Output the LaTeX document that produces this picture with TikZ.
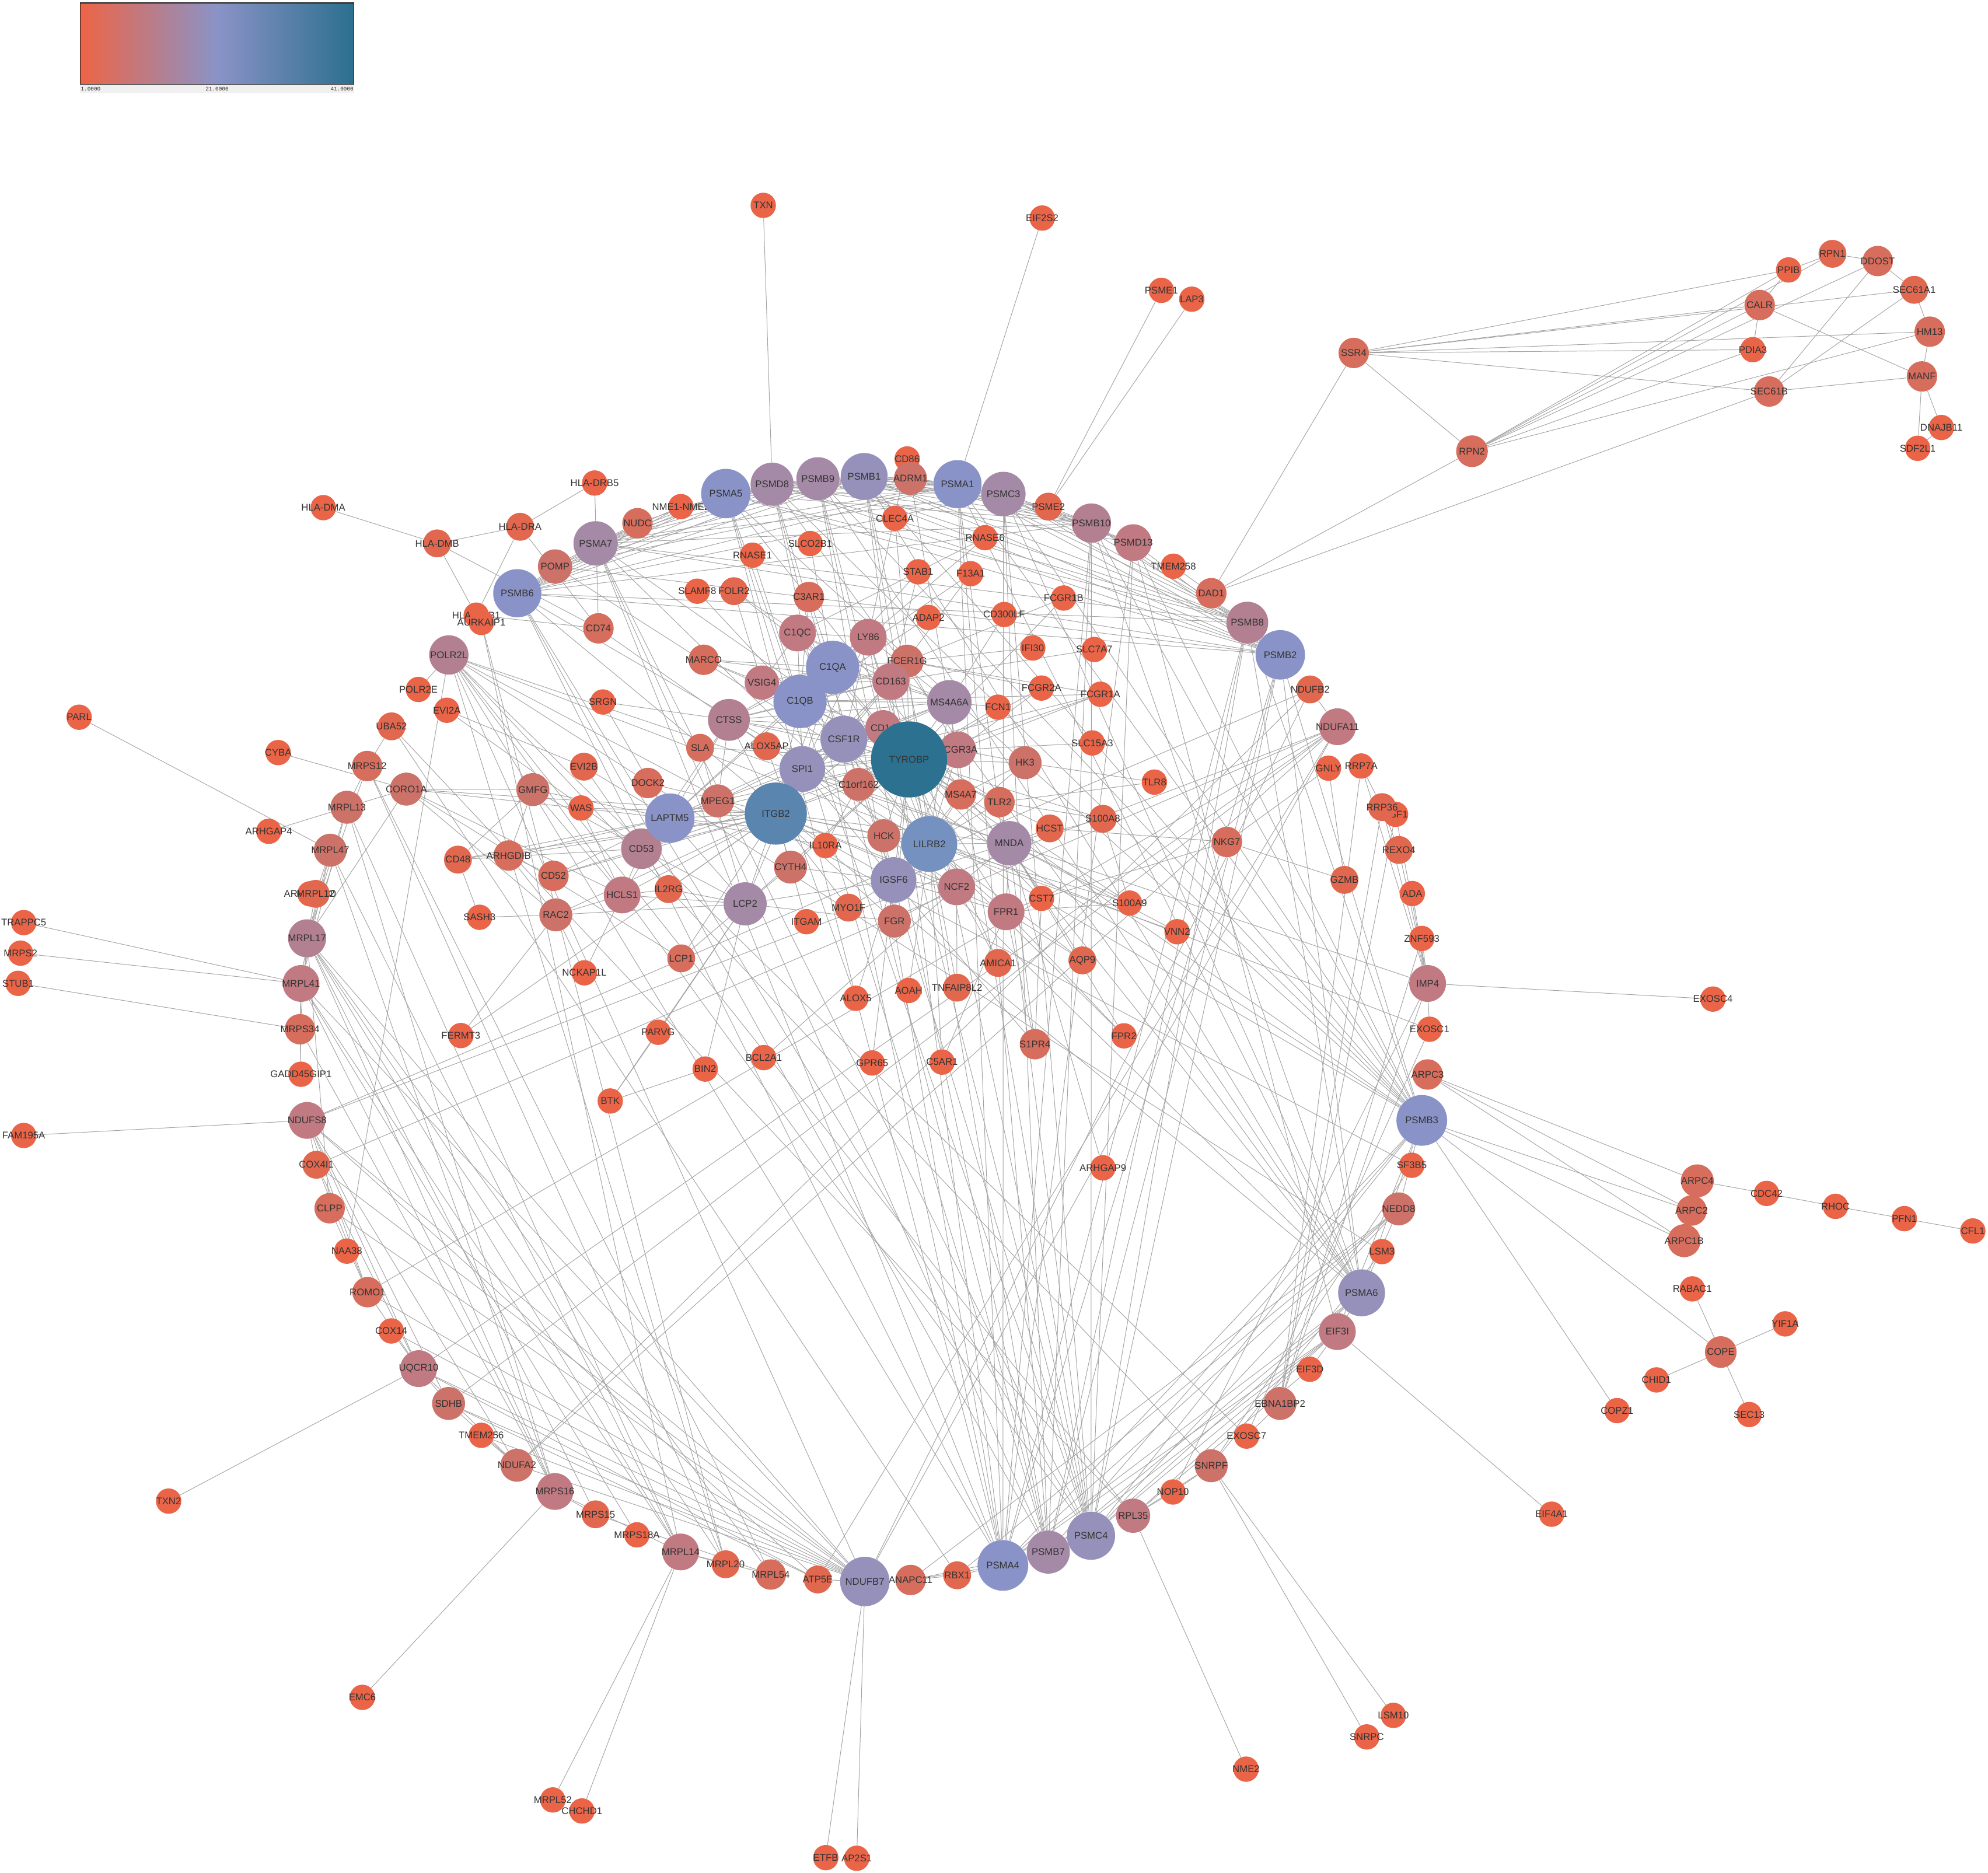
\documentclass[tikz,border=0pt]{standalone}
\usepackage{fontspec}
\newfontfamily\gfam{Liberation Sans}
\newfontfamily\lgfam{Liberation Mono}
\pgfdeclarelayer{bglayer}
\pgfdeclarelayer{edgelayer}
\pgfsetlayers{bglayer,edgelayer,main}
\definecolor{cla}{HTML}{EA6448}
\definecolor{clb}{HTML}{E1684F}
\definecolor{clc}{HTML}{D76D5C}
\definecolor{cld}{HTML}{CD7269}
\definecolor{cle}{HTML}{C17A82}
\definecolor{clf}{HTML}{B28090}
\definecolor{clg}{HTML}{A58AA7}
\definecolor{clh}{HTML}{9691BA}
\definecolor{cli}{HTML}{8A93C7}
\definecolor{clj}{HTML}{7591C0}
\definecolor{clk}{HTML}{5A85AE}
\definecolor{cll}{HTML}{2C7190}
\definecolor{edgec}{HTML}{A3A3A3}
\definecolor{lgA}{HTML}{EE6446}
\definecolor{lgM}{HTML}{8A93C7}
\definecolor{lgZ}{HTML}{2C6F8E}
\tikzset{
 gnode/.style={circle,inner sep=0pt,font=\gfam\fontsize{7.7}{8}\selectfont,text=black!80},
 lv1/.style={gnode,fill=cla,minimum size=20pt},
 lv2/.style={gnode,fill=clb,minimum size=22pt},
 lv3/.style={gnode,fill=clc,minimum size=24pt},
 lv4/.style={gnode,fill=cld,minimum size=26pt},
 lv5/.style={gnode,fill=cle,minimum size=29pt},
 lv6/.style={gnode,fill=clf,minimum size=31pt},
 lv7/.style={gnode,fill=clg,minimum size=34pt},
 lv8/.style={gnode,fill=clh,minimum size=37pt},
 lv9/.style={gnode,fill=cli,minimum size=39pt},
 lvlil/.style={gnode,fill=clj,minimum size=44pt},
 lvitg/.style={gnode,fill=clk,minimum size=49pt},
 lvtyr/.style={gnode,fill=cll,minimum size=60pt},
 gline/.style={draw=edgec,line width=0.45pt},
 lgtext/.style={inner sep=0pt,font=\lgfam\fontsize{4.3}{5}\selectfont,text=black!85}
}
\newcommand\gnd[4]{\node[#1] (#2) at (#3) {\makebox[0pt]{#4}};}
\newcommand\gnhub[2]{\foreach \hb in {#2}{\draw[gline] (#1) -- (\hb);}}
\begin{document}
\begin{tikzpicture}[x=1pt,y=-1pt]
\begin{pgfonlayer}{bglayer}
\fill[white] (0,0) rectangle (1568,1477);
\end{pgfonlayer}
\useasboundingbox (0,0) rectangle (1568,1477);
% legend
\shade[left color=lgA,right color=lgM] (63.2,2.3) rectangle (171.2,66.7);
\shade[left color=lgM,right color=lgZ] (171.2,2.3) rectangle (279.2,66.7);
\draw[black!90,line width=0.5pt] (63.2,2.3) rectangle (279.2,66.7);
\fill[black!6] (63.2,66.9) rectangle (279.2,73);
\node[lgtext,anchor=west] (lgone) at (63.6,70) {1.0000};
\node[lgtext] (lgtwo) at (171.2,70) {21.0000};
\node[lgtext,anchor=east] (lgthree) at (279,70) {41.0000};
% ---------- lv1 nodes
\gnd{lv1}{TXN}{602,162}{TXN}
\gnd{lv1}{EIF2S2}{822,172}{EIF2S2}
\gnd{lv1}{PSME1}{916,229}{PSME1}
\gnd{lv1}{LAP3}{940,236}{LAP3}
\gnd{lv1}{PPIB}{1410.7,212.9}{PPIB}
\gnd{lv1}{PDIA3}{1382.5,275.8}{PDIA3}
\gnd{lv1}{DNAJB11}{1531.2,337.2}{DNAJB11}
\gnd{lv1}{SDF2L1}{1512.5,353.6}{SDF2L1}
\gnd{lv1}{HLADRB5}{469,381}{HLA-DRB5}
\gnd{lv1}{HLADMA}{255,400.4}{HLA-DMA}
\gnd{lv1}{HLADRB1}{375.6,485.2}{HLA-DRB1}
\gnd{lv1}{AURKAIP1}{379.7,491}{AURKAIP1}
\gnd{lv1}{NMEA}{537,399.6}{NME1-NME2}
\gnd{lv1}{CD86}{715.5,362}{CD86}
\gnd{lv1}{TMEM258}{925.5,446.6}{TMEM258}
\gnd{lv1}{GNLY}{1047.8,605.9}{GNLY}
\gnd{lv1}{RRP7A}{1073.6,604.2}{RRP7A}
\gnd{lv1}{ESF1}{1100.7,642.3}{ESF1}
\gnd{lv1}{ADA}{1113.9,704.8}{ADA}
\gnd{lv1}{ZNF593}{1121.4,740.2}{ZNF593}
\gnd{lv1}{EXOSC1}{1127.5,811.8}{EXOSC1}
\gnd{lv1}{EXOSC4}{1351,788}{EXOSC4}
\gnd{lv1}{SF3B5}{1113.5,919.1}{SF3B5}
\gnd{lv1}{LSM3}{1090,987.2}{LSM3}
\gnd{lv1}{EIF3D}{1033.1,1080}{EIF3D}
\gnd{lv1}{EXOSC7}{983.2,1132.7}{EXOSC7}
\gnd{lv1}{NOP10}{925.1,1176.8}{NOP10}
\gnd{lv1}{MRPS18A}{502.3,1210.6}{MRPS18A}
\gnd{lv1}{TMEM256}{379.6,1132.1}{TMEM256}
\gnd{lv1}{COX14}{308.6,1049.8}{COX14}
\gnd{lv1}{NAA38}{273.5,986.8}{NAA38}
\gnd{lv1}{GADD45GIP1}{237.4,847.3}{GADD45GIP1}
\gnd{lv1}{ARHGAP30}{244.5,705}{ARHGAP30}
\gnd{lv1}{EVI2A}{352.4,560.2}{EVI2A}
\gnd{lv1}{POLR2E}{330,543.8}{POLR2E}
\gnd{lv1}{PARL}{62.4,565.7}{PARL}
\gnd{lv1}{CYBA}{219.4,593.6}{CYBA}
\gnd{lv1}{ARHGAP4}{212,655.7}{ARHGAP4}
\gnd{lv1}{TRAPPC5}{18.7,727.7}{TRAPPC5}
\gnd{lv1}{MRPS2}{16.2,751.8}{MRPS2}
\gnd{lv1}{STUB1}{14.3,775.6}{STUB1}
\gnd{lv1}{FAM195A}{18.7,895.6}{FAM195A}
\gnd{lv1}{TXN2}{133,1184}{TXN2}
\gnd{lv1}{EMC6}{285.8,1338.8}{EMC6}
\gnd{lv1}{MRPL52}{436,1419.7}{MRPL52}
\gnd{lv1}{CHCHD1}{459,1428.4}{CHCHD1}
\gnd{lv1}{ETFB}{651.3,1465.2}{ETFB}
\gnd{lv1}{AP2S1}{675.7,1465.7}{AP2S1}
\gnd{lv1}{NME2}{982.8,1395.4}{NME2}
\gnd{lv1}{SNRPC}{1078,1370}{SNRPC}
\gnd{lv1}{LSM10}{1099,1353}{LSM10}
\gnd{lv1}{EIF4A1}{1223.8,1194.3}{EIF4A1}
\gnd{lv1}{COPZ1}{1275.4,1112.6}{COPZ1}
\gnd{lv1}{SEC13}{1379.6,1115.7}{SEC13}
\gnd{lv1}{CHID1}{1306.5,1088.4}{CHID1}
\gnd{lv1}{YIF1A}{1408,1044.2}{YIF1A}
\gnd{lv1}{RABAC1}{1334.8,1016.6}{RABAC1}
\gnd{lv1}{CDC42}{1393.3,941.3}{CDC42}
\gnd{lv1}{RHOC}{1447.7,951.5}{RHOC}
\gnd{lv1}{PFN1}{1502,961.2}{PFN1}
\gnd{lv1}{CFL1}{1556,970.9}{CFL1}
\gnd{lv1}{SRGN}{475.5,553.7}{SRGN}
\gnd{lv1}{SLAMF8}{549.9,466.3}{SLAMF8}
\gnd{lv1}{RNASE1}{593.5,437.9}{RNASE1}
\gnd{lv1}{SLCO2B1}{639,428.7}{SLCO2B1}
\gnd{lv1}{CLEC4A}{705.8,408.8}{CLEC4A}
\gnd{lv1}{RNASE6}{776.9,424.1}{RNASE6}
\gnd{lv1}{STAB1}{724.2,451}{STAB1}
\gnd{lv1}{F13A1}{765.6,452.5}{F13A1}
\gnd{lv1}{ADAP2}{732.3,487}{ADAP2}
\gnd{lv1}{CD300LF}{792,484.7}{CD300LF}
\gnd{lv1}{FCGR1B}{838.9,471.7}{FCGR1B}
\gnd{lv1}{IFI30}{814.6,511.1}{IFI30}
\gnd{lv1}{SLC7A7}{863.1,512.3}{SLC7A7}
\gnd{lv1}{FCGR2A}{821.4,542.7}{FCGR2A}
\gnd{lv1}{FCGR1A}{867.9,547.6}{FCGR1A}
\gnd{lv1}{FCN1}{787.1,557.8}{FCN1}
\gnd{lv1}{SLC15A3}{861.5,586}{SLC15A3}
\gnd{lv1}{TLR8}{910.5,616.9}{TLR8}
\gnd{lv1}{WAS}{458.3,637.3}{WAS}
\gnd{lv1}{IL10RA}{651,666.9}{IL10RA}
\gnd{lv1}{CST7}{821.5,708.6}{CST7}
\gnd{lv1}{S100A9}{890.9,712.3}{S100A9}
\gnd{lv1}{SASH3}{378.2,723.5}{SASH3}
\gnd{lv1}{ITGAM}{636.1,727}{ITGAM}
\gnd{lv1}{VNN2}{928.4,734.9}{VNN2}
\gnd{lv1}{NCKAP1L}{460.9,767.3}{NCKAP1L}
\gnd{lv1}{AOAH}{716.7,781.2}{AOAH}
\gnd{lv1}{ALOX5}{675,787.4}{ALOX5}
\gnd{lv1}{FERMT3}{363.5,816.8}{FERMT3}
\gnd{lv1}{PARVG}{519.1,814.2}{PARVG}
\gnd{lv1}{FPR2}{886.5,817}{FPR2}
\gnd{lv1}{BCL2A1}{602.4,834.2}{BCL2A1}
\gnd{lv1}{BIN2}{556.2,843.2}{BIN2}
\gnd{lv1}{GPR65}{687.9,838.4}{GPR65}
\gnd{lv1}{C5AR1}{743,837.7}{C5AR1}
\gnd{lv1}{BTK}{481.3,868.4}{BTK}
\gnd{lv1}{ARHGAP9}{869.9,921.1}{ARHGAP9}
% ---------- lv2 nodes
\gnd{lv2}{RPN1}{1445.3,200.2}{RPN1}
\gnd{lv2}{SEC61A1}{1509.8,228.6}{SEC61A1}
\gnd{lv2}{HLADRA}{410.2,415.5}{HLA-DRA}
\gnd{lv2}{HLADMB}{344.8,428.6}{HLA-DMB}
\gnd{lv2}{PSME2}{826.9,399.6}{PSME2}
\gnd{lv2}{NDUFB2}{1033.3,543.8}{NDUFB2}
\gnd{lv2}{RRP36}{1090.1,636.6}{RRP36}
\gnd{lv2}{REXO4}{1103.3,670.4}{REXO4}
\gnd{lv2}{GZMB}{1060.4,694}{GZMB}
\gnd{lv2}{RBX1}{754.9,1242.5}{RBX1}
\gnd{lv2}{ATP5E}{645,1245.8}{ATP5E}
\gnd{lv2}{MRPL20}{572.3,1233.8}{MRPL20}
\gnd{lv2}{MRPS15}{469.7,1194.4}{MRPS15}
\gnd{lv2}{COX4I1}{249.5,918.7}{COX4I1}
\gnd{lv2}{MRPL12}{249,705}{MRPL12}
\gnd{lv2}{UBA52}{308.8,572.9}{UBA52}
\gnd{lv2}{FOLR2}{578.9,466.3}{FOLR2}
\gnd{lv2}{ALOX5AP}{604.6,588.6}{ALOX5AP}
\gnd{lv2}{EVI2B}{460.5,604.7}{EVI2B}
\gnd{lv2}{S100A8}{869.8,645.8}{S100A8}
\gnd{lv2}{HCST}{827.9,653.4}{HCST}
\gnd{lv2}{CD48}{361.2,678}{CD48}
\gnd{lv2}{IL2RG}{527.3,701.3}{IL2RG}
\gnd{lv2}{MYO1F}{669.3,715.9}{MYO1F}
\gnd{lv2}{AMICA1}{787.2,759.5}{AMICA1}
\gnd{lv2}{AQP9}{853.7,757.5}{AQP9}
\gnd{lv2}{TNFAIP8L2}{754.8,779}{TNFAIP8L2}
% ---------- lv3 nodes
\gnd{lv3}{DDOST}{1481,205.9}{DDOST}
\gnd{lv3}{CALR}{1387.9,240.6}{CALR}
\gnd{lv3}{HM13}{1522,261.6}{HM13}
\gnd{lv3}{SSR4}{1067.7,278.4}{SSR4}
\gnd{lv3}{MANF}{1515.9,296.9}{MANF}
\gnd{lv3}{SEC61B}{1395.4,308.8}{SEC61B}
\gnd{lv3,minimum size=25pt}{RPN2}{1161,355.9}{RPN2}
\gnd{lv3}{NUDC}{502.8,412.7}{NUDC}
\gnd{lv3}{DAD1}{955.4,467.9}{DAD1}
\gnd{lv3}{ARPC3}{1126,847.5}{ARPC3}
\gnd{lv3}{ANAPC11}{718.2,1246.2}{ANAPC11}
\gnd{lv3}{MRPL54}{607.9,1241.9}{MRPL54}
\gnd{lv3}{ROMO1}{289.9,1019.2}{ROMO1}
\gnd{lv3}{CLPP}{260,953}{CLPP}
\gnd{lv3}{MRPS34}{236.6,811.8}{MRPS34}
\gnd{lv3}{MRPS12}{289.6,604.2}{MRPS12}
\gnd{lv3}{CD74}{472,495.6}{CD74}
\gnd{lv3}{C3AR1}{638,470.9}{C3AR1}
\gnd{lv3}{MARCO}{555,520.4}{MARCO}
\gnd{lv3,minimum size=22pt}{SLA}{552.2,589.8}{SLA}
\gnd{lv3}{MS4A7}{757.8,626.6}{MS4A7}
\gnd{lv3}{TLR2}{788.3,632.7}{TLR2}
\gnd{lv3}{DOCK2}{511,617.6}{DOCK2}
\gnd{lv3}{ARHGDIB}{401.2,674.8}{ARHGDIB}
\gnd{lv3}{CD52}{436.5,690.8}{CD52}
\gnd{lv3,minimum size=22pt}{LCP1}{537.3,755.9}{LCP1}
\gnd{lv3}{S1PR4}{816.3,823.6}{S1PR4}
\gnd{lv3}{NKG7}{967.7,664.1}{NKG7}
\gnd{lv3,minimum size=25pt}{COPE}{1357.2,1066.4}{COPE}
\gnd{lv3,minimum size=26pt}{ARPC4}{1338.7,931.4}{ARPC4}
\gnd{lv3}{ARPC2}{1334.2,954.8}{ARPC2}
\gnd{lv3,minimum size=26pt}{ARPC1B}{1328.3,978.6}{ARPC1B}
% ---------- lv4 nodes
\gnd{lv4}{ADRM1}{718.1,377.3}{ADRM1}
\gnd{lv4}{NEDD8}{1103.2,953.5}{NEDD8}
\gnd{lv4}{EBNA1BP2}{1009.6,1107}{EBNA1BP2}
\gnd{lv4}{SNRPF}{955.3,1156.1}{SNRPF}
\gnd{lv4}{SDHB}{353.8,1107}{SDHB}
\gnd{lv4}{NDUFA2}{407.7,1155.7}{NDUFA2}
\gnd{lv4}{MRPL47}{260.5,670.6}{MRPL47}
\gnd{lv4}{MRPL13}{273.6,636.7}{MRPL13}
\gnd{lv4,minimum size=27pt}{POMP}{437.8,446.8}{POMP}
\gnd{lv4}{FCER1G}{715.5,521.5}{FCER1G}
\gnd{lv4}{HK3}{808.5,601.6}{HK3}
\gnd{lv4}{C1orf162}{677.2,618.7}{C1orf162}
\gnd{lv4}{GMFG}{420.3,622.8}{GMFG}
\gnd{lv4}{MPEG1}{566.1,631.7}{MPEG1}
\gnd{lv4}{HCK}{697.1,659.2}{HCK}
\gnd{lv4}{CYTH4}{623.5,683.9}{CYTH4}
\gnd{lv4}{FGR}{705.4,726.5}{FGR}
\gnd{lv4}{RAC2}{438.4,721.6}{RAC2}
\gnd{lv4}{CORO1A}{320.5,622.4}{CORO1A}
% ---------- lv5 nodes
\gnd{lv5}{PSMD13}{893.8,428}{PSMD13}
\gnd{lv5}{NDUFA11}{1054.9,573.2}{NDUFA11}
\gnd{lv5}{IMP4}{1126,775.7}{IMP4}
\gnd{lv5}{EIF3I}{1054.8,1050.3}{EIF3I}
\gnd{lv5,minimum size=27pt}{RPL35}{893.7,1195.5}{RPL35}
\gnd{lv5}{MRPL14}{536.8,1224.1}{MRPL14}
\gnd{lv5}{MRPS16}{437.7,1176.4}{MRPS16}
\gnd{lv5}{UQCR10}{330.2,1079.5}{UQCR10}
\gnd{lv5}{NDUFS8}{242.2,883.7}{NDUFS8}
\gnd{lv5}{MRPL41}{237.4,775.7}{MRPL41}
\gnd{lv5}{C1QC}{629,499.3}{C1QC}
\gnd{lv5}{LY86}{684.8,502.6}{LY86}
\gnd{lv5,minimum size=27pt}{VSIG4}{600.9,538.4}{VSIG4}
\gnd{lv5}{CD163}{702.6,537.6}{CD163}
\gnd{lv5,minimum size=28pt}{CD14}{696.5,574.1}{CD14}
\gnd{lv5}{FCGR3A}{755.4,591.4}{FCGR3A}
\gnd{lv5}{NCF2}{754.5,699.5}{NCF2}
\gnd{lv5}{HCLS1}{490.7,705.9}{HCLS1}
\gnd{lv5}{FPR1}{793.5,719.2}{FPR1}
% ---------- lv6 nodes
\gnd{lv6}{PSMB10}{860.8,412.6}{PSMB10}
\gnd{lv6,minimum size=33pt}{PSMB8}{983.8,491.1}{PSMB8}
\gnd{lv6,minimum size=30pt}{MRPL17}{242.2,740.1}{MRPL17}
\gnd{lv6}{POLR2L}{354,516.6}{POLR2L}
\gnd{lv6,minimum size=33pt}{CTSS}{574.9,567.8}{CTSS}
\gnd{lv6,minimum size=32pt}{CD53}{505.9,669.4}{CD53}
% ---------- lv7 nodes
\gnd{lv7}{PSMD8}{609,381.9}{PSMD8}
\gnd{lv7}{PSMB9}{645.1,377.6}{PSMB9}
\gnd{lv7,minimum size=35pt}{PSMC3}{791.4,389.6}{PSMC3}
\gnd{lv7}{PSMB7}{826.8,1224.2}{PSMB7}
\gnd{lv7,minimum size=35pt}{PSMA7}{469.8,428.6}{PSMA7}
\gnd{lv7,minimum size=35pt}{MS4A6A}{748.8,553.9}{MS4A6A}
\gnd{lv7,minimum size=35pt}{MNDA}{796,665.1}{MNDA}
\gnd{lv7}{LCP2}{587.7,712.9}{LCP2}
% ---------- lv8 nodes
\gnd{lv8}{PSMB1}{681.6,375.8}{PSMB1}
\gnd{lv8}{PSMA6}{1073.9,1019.7}{PSMA6}
\gnd{lv8,minimum size=38pt}{PSMC4}{860.5,1211.3}{PSMC4}
\gnd{lv8,minimum size=39pt}{NDUFB7}{682.1,1247.4}{NDUFB7}
\gnd{lv8}{CSF1R}{665.6,583}{CSF1R}
\gnd{lv8,minimum size=36pt}{SPI1}{632.8,606.5}{SPI1}
\gnd{lv8,minimum size=36pt}{IGSF6}{704.8,694.1}{IGSF6}
% ---------- lv9 nodes
\gnd{lv9}{PSMA5}{572.5,389.3}{PSMA5}
\gnd{lv9,minimum size=38pt}{PSMA1}{755.2,381.9}{PSMA1}
\gnd{lv9}{PSMB2}{1009.8,516.5}{PSMB2}
\gnd{lv9,minimum size=40pt}{PSMB3}{1121.4,883.7}{PSMB3}
\gnd{lv9,minimum size=40pt}{PSMA4}{791,1234.7}{PSMA4}
\gnd{lv9,minimum size=38pt}{PSMB6}{408,467.9}{PSMB6}
\gnd{lv9}{LAPTM5}{528.3,645.3}{LAPTM5}
\gnd{lv9,minimum size=42pt}{C1QA}{656.7,526.4}{C1QA}
\gnd{lv9,minimum size=42pt}{C1QB}{631,553.3}{C1QB}
% ---------- hubs
\gnd{lvlil}{LILRB2}{733,665.7}{LILRB2}
\gnd{lvitg}{ITGB2}{611.9,641.7}{ITGB2}
\gnd{lvtyr}{TYROBP}{717,599}{TYROBP}
% ================= edges
\begin{pgfonlayer}{edgelayer}
\def\plist{PSMA1,PSMA4,PSMA5,PSMA6,PSMA7,PSMB1,PSMB2,PSMB3,PSMB6,PSMB7,PSMC3,PSMC4,PSMD8,PSMB9,PSMB8,PSMB10}
\foreach \pa [count=\i] in \plist {\foreach \pb [count=\j] in \plist {\ifnum\j>\i \draw[gline] (\pa) -- (\pb);\fi}}
\foreach \pa/\pb in {SSR4/PPIB,SSR4/CALR,SSR4/SEC61A1,SSR4/HM13,SSR4/PDIA3,SSR4/SEC61B,SSR4/RPN2,SSR4/DAD1,
 RPN2/PPIB,RPN2/CALR,RPN2/DDOST,RPN2/PDIA3,RPN2/HM13,RPN2/DAD1,RPN2/RPN1,
 SEC61B/DAD1,SEC61B/MANF,SEC61B/DDOST,SEC61B/SEC61A1,CALR/MANF,CALR/PDIA3,CALR/PPIB,
 DDOST/RPN1,DDOST/SEC61A1,SEC61A1/HM13,HM13/MANF,MANF/DNAJB11,MANF/SDF2L1,DNAJB11/SDF2L1,RPN1/PPIB,DAD1/TMEM258,
 TXN/PSMD8,EIF2S2/PSMA1,PSME1/PSME2,LAP3/PSME2,
 HLADMA/HLADMB,HLADMB/HLADRA,HLADMB/HLADRB1,HLADMB/CD74,HLADRA/HLADRB5,HLADRA/HLADRB1,HLADRA/CD74,HLADRB5/CD74,HLADRB1/CD74,CD74/CTSS,
 POMP/PSMB6,POMP/PSMA7,POMP/PSMA5,POMP/PSMB2,POMP/PSMB1,POMP/PSMA1,POMP/PSMB3,
 PSMD13/PSMC3,PSMD13/PSMC4,PSMD13/PSMD8,PSMD13/ADRM1,PSMD13/PSMA1,PSMD13/PSMB2,PSMD13/PSMA4,PSMD13/PSMB3,
 ADRM1/PSMD8,ADRM1/PSMC3,ADRM1/PSMA1,ADRM1/PSMB1,ADRM1/PSMC4,ADRM1/PSMA5,
 PSME2/PSMB8,PSME2/PSMB9,PSME2/PSMB10,NUDC/PSMA7,NUDC/PSMB6,NUDC/PSMA5,NMEA/PSMA7,NMEA/PSMB6,
 RBX1/NEDD8,RBX1/ANAPC11,RBX1/PSMA4,RBX1/UBA52,NEDD8/PSMB3,NEDD8/PSMA6,NEDD8/ANAPC11,NEDD8/PSMC4,NEDD8/PSMA4,
 ANAPC11/PSMA4,ANAPC11/PSMB7,UBA52/MRPS12,UBA52/RPL35,CD86/LY86}
 {\draw[gline] (\pa) -- (\pb);}
\foreach \pa/\pb in {MRPL17/MRPL13,MRPL17/MRPL47,MRPL17/MRPL12,MRPL17/MRPL41,MRPL17/MRPS34,MRPL17/MRPS16,MRPL17/MRPL14,MRPL17/MRPL20,MRPL17/MRPL54,MRPL17/MRPS15,MRPL17/MRPS12,MRPL17/CORO1A,
 MRPL41/MRPL13,MRPL41/MRPL47,MRPL41/MRPS34,MRPL41/MRPS16,MRPL41/MRPL14,MRPL41/TRAPPC5,MRPL41/MRPS2,MRPL41/MRPS18A,MRPL41/GADD45GIP1,
 MRPS16/MRPL13,MRPS16/MRPL47,MRPS16/MRPS34,MRPS16/MRPL14,MRPS16/MRPS15,MRPS16/EMC6,
 MRPL14/MRPL13,MRPL14/MRPL47,MRPL14/MRPL52,MRPL14/CHCHD1,MRPL14/MRPL20,MRPL14/MRPL54,
 MRPL13/ARHGAP4,MRPL13/MRPS12,MRPL13/CORO1A,MRPL47/PARL,MRPL47/MRPL12,MRPS34/STUB1,MRPS34/GADD45GIP1,
 MRPL54/MRPS15,MRPL54/MRPS12,AURKAIP1/MRPL20,AURKAIP1/MRPL14,MRPS12/MRPL20,
 NDUFB7/NDUFS8,NDUFB7/NDUFA11,NDUFB7/NDUFA2,NDUFB7/NDUFB2,NDUFB7/UQCR10,NDUFB7/SDHB,NDUFB7/ATP5E,NDUFB7/COX4I1,NDUFB7/COX14,NDUFB7/ROMO1,NDUFB7/ETFB,NDUFB7/AP2S1,NDUFB7/CLPP,NDUFB7/TMEM256,NDUFB7/MRPL17,NDUFB7/MRPL41,NDUFB7/POLR2L,
 NDUFS8/NDUFA11,NDUFS8/NDUFA2,NDUFS8/NDUFB2,NDUFS8/UQCR10,NDUFS8/SDHB,NDUFS8/ATP5E,NDUFS8/COX4I1,NDUFS8/FAM195A,NDUFS8/ROMO1,
 NDUFA11/NDUFA2,NDUFA11/NDUFB2,NDUFA11/UQCR10,NDUFA11/SDHB,NDUFA11/ATP5E,NDUFA11/COX4I1,NDUFA11/ROMO1,
 UQCR10/SDHB,UQCR10/ATP5E,UQCR10/COX4I1,UQCR10/COX14,UQCR10/TXN2,UQCR10/NDUFA2,UQCR10/ROMO1,
 SDHB/ATP5E,SDHB/NDUFA2,ROMO1/COX4I1,NDUFB2/NDUFA2,CLPP/ROMO1,CLPP/MRPL17,NAA38/POLR2L,TMEM256/NDUFA2}
 {\draw[gline] (\pa) -- (\pb);}
\foreach \pa/\pb in {IMP4/EXOSC4,IMP4/EXOSC1,IMP4/ZNF593,IMP4/REXO4,IMP4/RRP36,IMP4/RRP7A,IMP4/ESF1,IMP4/EBNA1BP2,IMP4/NOP10,IMP4/ADA,
 EBNA1BP2/RRP36,EBNA1BP2/RRP7A,EBNA1BP2/ZNF593,EBNA1BP2/EXOSC7,EBNA1BP2/ESF1,EXOSC7/EXOSC1,REXO4/RRP36,RRP7A/RRP36,
 SNRPF/LSM3,SNRPF/LSM10,SNRPF/SNRPC,SNRPF/SF3B5,SNRPF/NOP10,SNRPF/POLR2L,SNRPF/RPL35,SF3B5/POLR2L,LSM3/POLR2L,
 EIF3I/EIF3D,EIF3I/EIF4A1,EIF3I/RPL35,EIF3I/PSMA6,EIF3I/PSMB3,EIF3I/PSMA4,EIF3I/PSMC4,EIF3I/PSMB7,EIF3I/PSMD13,
 EIF3D/RPL35,RPL35/NME2,RPL35/NOP10,
 POLR2L/POLR2E,POLR2L/EXOSC7,POLR2L/EXOSC1,POLR2L/IMP4,POLR2L/RPL35,POLR2L/PSMA4,POLR2L/PSMC4,POLR2L/MRPL20,
 ARPC3/ARPC4,ARPC3/ARPC2,ARPC3/ARPC1B,PSMB3/ARPC1B,PSMB3/ARPC2,ARPC4/ARPC2,ARPC2/ARPC1B,ARPC4/CDC42,CDC42/RHOC,RHOC/PFN1,PFN1/CFL1,
 PSMB3/COPE,PSMB3/COPZ1,COPE/RABAC1,COPE/YIF1A,COPE/CHID1,COPE/SEC13,
 NKG7/GZMB,NKG7/GNLY,NKG7/HCST,NKG7/CST7,GNLY/GZMB}
 {\draw[gline] (\pa) -- (\pb);}
\gnhub{TYROBP}{ITGB2,LILRB2,C1QA,C1QB,C1QC,LAPTM5,SPI1,CSF1R,IGSF6,CTSS,MS4A6A,MNDA,LCP2,CD53,LY86,CD163,VSIG4,FCGR3A,CD14,FPR1,NCF2,FCER1G,HCK,C1orf162,MS4A7,TLR2,HK3,FCGR1A,FCGR2A,FCGR1B,FCN1,MPEG1,CYTH4,FGR,SLA,ALOX5AP,HCST,S100A8,S100A9,CST7,AMICA1}
\gnhub{ITGB2}{LILRB2,C1QA,C1QB,LAPTM5,SPI1,CSF1R,IGSF6,CTSS,MNDA,LCP2,CD53,FCGR3A,CD14,FPR1,NCF2,FCER1G,HCK,ITGAM,HCLS1,CORO1A,RAC2,CD52,IL2RG,LCP1,CYTH4,MYO1F,FGR,DOCK2,CD48,ARHGDIB,WAS,FERMT3}
\gnhub{LILRB2}{C1QA,C1QB,LAPTM5,SPI1,CSF1R,IGSF6,MNDA,MS4A6A,FCGR3A,CD14,FPR1,NCF2,HCK,FCER1G,LY86,MS4A7,TLR2,HK3,FPR2,AQP9,S100A9,VNN2,AOAH,C5AR1,TNFAIP8L2}
\gnhub{C1QA}{C1QB,C1QC,CSF1R,CD163,VSIG4,MS4A6A,LY86,MARCO,FCER1G,CTSS,SPI1,STAB1,F13A1,FOLR2,SLCO2B1,C3AR1,LAPTM5}
\gnhub{C1QB}{C1QC,CSF1R,CD163,VSIG4,MS4A6A,LY86,FCER1G,CTSS,SPI1,LAPTM5,MARCO,ADAP2,CD14,FCGR1A,C3AR1,SLAMF8,RNASE1}
\gnhub{C1QC}{CD163,VSIG4,MS4A6A,CSF1R,FOLR2,LY86,RNASE6}
\gnhub{LAPTM5}{CD53,CSF1R,SPI1,CTSS,LCP2,HCLS1,CD52,EVI2B,DOCK2,IL10RA,MPEG1,GMFG,CORO1A,SRGN,CD48,ARHGDIB}
\gnhub{SPI1}{CSF1R,IGSF6,MNDA,LCP2,CD14,CTSS,MS4A6A,LY86,FCGR1A,CD163,HCK,FCGR3A}
\gnhub{CSF1R}{CTSS,CD163,MS4A6A,CD14,IGSF6,MPEG1,LY86,FCGR3A,C1orf162,MS4A7}
\gnhub{IGSF6}{MNDA,FPR1,NCF2,FGR,HCK,MS4A7,LCP2,CYTH4,MYO1F,FCGR3A,ALOX5,GPR65,S1PR4}
\gnhub{CTSS}{MS4A6A,CD14,CD163,LY86,MPEG1,ALOX5AP,CD53,SRGN}
\gnhub{MS4A6A}{CD163,MS4A7,CD14,LY86,FCN1,CD300LF}
\gnhub{MNDA}{FPR1,NCF2,CST7,HCST,S100A8,S100A9,TLR2,AQP9,FPR2,VNN2,ARHGAP9,S1PR4}
\gnhub{LCP2}{HCLS1,CD53,IL2RG,LCP1,RAC2,BTK,PARVG,CYTH4,FGR,BIN2,SLA}
\gnhub{CD53}{HCLS1,CD52,CD48,IL2RG,EVI2B,EVI2A,GMFG}
\gnhub{HCLS1}{RAC2,CORO1A,IL2RG,WAS,NCKAP1L,GMFG}
\gnhub{CD163}{VSIG4,MARCO,STAB1,F13A1,SLC7A7}
\gnhub{FCGR3A}{FCGR2A,FCGR1A,FCER1G,SLC15A3,HK3}
\gnhub{FPR1}{FPR2,CST7,AQP9,S100A9,C5AR1,S1PR4}
\gnhub{NCF2}{FGR,HCK,TNFAIP8L2,AMICA1,BCL2A1}
\gnhub{FCER1G}{FCGR1A,FCGR2A,FCGR1B,IFI30,CLEC4A}
\gnhub{RAC2}{CORO1A,ARHGDIB,NCKAP1L,SASH3,FERMT3}
\foreach \pa/\pb in {VSIG4/MARCO,VSIG4/FOLR2,LY86/CD14,LY86/RNASE6,CD14/TLR2,HCK/FGR,C1orf162/IL10RA,MS4A7/HK3,
 TLR2/TLR8,TLR2/S100A8,HK3/TLR8,S100A8/S100A9,ALOX5AP/ALOX5,CORO1A/CYBA,CORO1A/GMFG,CORO1A/LCP1,
 GMFG/ARHGDIB,GMFG/CD48,CD48/SASH3,ARHGDIB/CD52,EVI2B/EVI2A,PARVG/BTK,BTK/BIN2,S1PR4/CST7}
 {\draw[gline] (\pa) -- (\pb);}
\end{pgfonlayer}
\end{tikzpicture}
\end{document}
